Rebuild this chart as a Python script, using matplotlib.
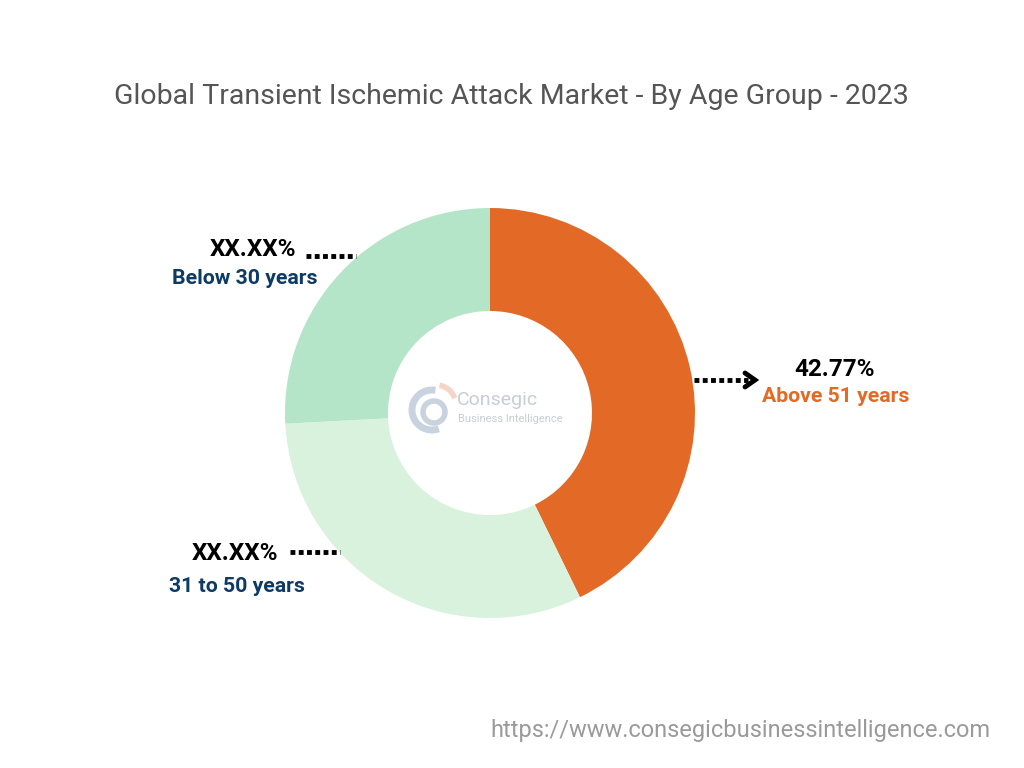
import matplotlib.pyplot as plt
from matplotlib.patches import Arc

# data
groups = ["Above 51 years", "31 to 50 years", "Below 30 years"]
shares = [42.77, 31.40, 25.83]
share_labels = ["42.77%", "XX.XX%", "XX.XX%"]
colors = ["#E36A26", "#D9F2DE", "#B5E5C9"]

W, H = 1024, 768
fig = plt.figure(figsize=(W / 100, H / 100), dpi=100)
ax = fig.add_axes([0, 0, 1, 1])

def Y(y):
    # image row -> axes y
    return H - y

cx, cy, r = 490, Y(413), 205
ax.pie(shares, colors=colors, startangle=90, counterclock=False,
       radius=r, center=(cx, cy), frame=True,
       wedgeprops=dict(width=103, edgecolor="none"))
ax.set_xlim(0, W)
ax.set_ylim(0, H)
ax.set_aspect("equal")
ax.axis("off")

# title
ax.text(511, Y(96), "Global Transient Ischemic Attack Market - By Age Group - 2023",
        ha="center", va="center", fontsize=20.5, color="#555555", family="Roboto")

navy = "#0D3B66"
pct_fs = 17.5
lab_fs = 15.3
# Below 30 years
ax.text(296, Y(250), share_labels[2], ha="right", va="center", fontsize=pct_fs,
        fontweight="bold", color="black", family="Roboto")
ax.text(245, Y(278), groups[2], ha="center", va="center", fontsize=lab_fs,
        fontweight="bold", color=navy, family="Roboto")
ax.plot([306, 356], [Y(256), Y(256)], color="black", lw=3.5, ls=(0, (1, 0.7)))

# 31 to 50 years
ax.text(278, Y(553), share_labels[1], ha="right", va="center", fontsize=pct_fs,
        fontweight="bold", color="black", family="Roboto")
ax.text(237, Y(586), groups[1], ha="center", va="center", fontsize=lab_fs,
        fontweight="bold", color=navy, family="Roboto")
ax.plot([290, 340], [Y(552), Y(552)], color="black", lw=3.5, ls=(0, (1, 0.7)))

# Above 51 years
ax.text(835, Y(369), share_labels[0], ha="center", va="center", fontsize=pct_fs,
        fontweight="bold", color="black", family="Roboto")
ax.text(836, Y(397), groups[0], ha="center", va="center", fontsize=lab_fs,
        fontweight="bold", color="#E36A26", family="Roboto")
ax.plot([694, 748], [Y(380), Y(380)], color="black", lw=3.5, ls=(0, (1, 0.7)))
ax.plot([745, 755, 745], [Y(373), Y(380), Y(387)], color="black", lw=3.5,
        solid_capstyle="round", solid_joinstyle="miter")

# faint logo in the hole
ax.add_patch(Arc((432, Y(410)), 40, 40, theta1=80, theta2=290, color="#C9D3E0", lw=5))
ax.add_patch(Arc((434, Y(412)), 22, 22, theta1=0, theta2=360, color="#C9D3E0", lw=4))
ax.add_patch(Arc((436, Y(405)), 40, 40, theta1=20, theta2=80, color="#F5D6C6", lw=4))
ax.text(457, Y(400), "Consegic", ha="left", va="center", fontsize=14,
        color="#C8CDD6", family="Roboto")
ax.text(458, Y(419), "Business Intelligence", ha="left", va="center", fontsize=8,
        color="#C8CDD6", family="Roboto")

# url
ax.text(990, Y(730), "https://www.consegicbusinessintelligence.com", ha="right",
        va="center", fontsize=17, color="#9A9A9A", family="Roboto")

fig.savefig("out.png", dpi=100)
